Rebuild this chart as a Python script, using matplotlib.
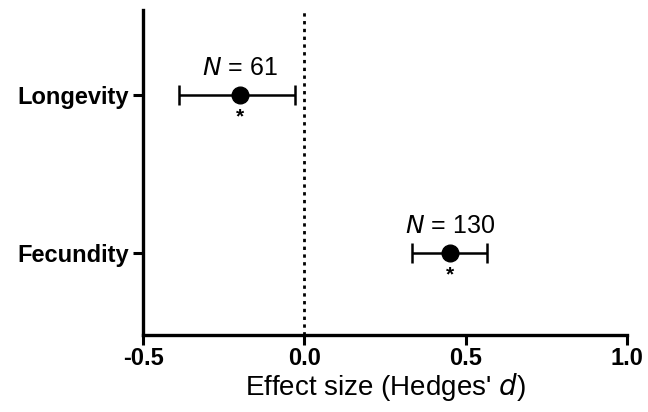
import matplotlib
matplotlib.use('Agg')
from matplotlib import pyplot as plt

outcomes = ['Fecundity', 'Longevity']
effect = [0.45, -0.20]
ci_low = [0.335, -0.39]
ci_high = [0.565, -0.03]
n_labels = ['130', '61']
xticks = [-0.5, 0.0, 0.5, 1.0]
xtick_labels = ['-0.5', '0.0', '0.5', '1.0']

plt.rcParams['font.family'] = ['Liberation Sans', 'DejaVu Sans']

fig = plt.figure(figsize=(6.48, 4.12), dpi=100)
ax = fig.add_axes([0.2207, 0.187, 0.747, 0.789])

ypos = list(range(len(outcomes)))
err_lo = [e - l for e, l in zip(effect, ci_low)]
err_hi = [h - e for e, h in zip(effect, ci_high)]

ax.axvline(0, color='black', linestyle=(0, (1.2, 1.6)), linewidth=2, zorder=1)
ax.errorbar(effect, ypos, xerr=[err_lo, err_hi], fmt='o', color='black',
            markersize=12, elinewidth=1.8, capsize=7, capthick=1.8, zorder=3)

for x, y, n in zip(effect, ypos, n_labels):
    ax.text(x, y + 0.17, '$\\it{N}$ = ' + n, ha='center', va='center', fontsize=18)
    ax.text(x, y - 0.14, '*', ha='center', va='center', fontsize=15, fontweight='bold')

ax.set_xlim(-0.5, 1.0)
ax.set_ylim(-0.52, 1.54)
ax.set_xticks(xticks)
ax.set_xticklabels(xtick_labels, fontsize=17, fontweight='bold')
ax.set_yticks(ypos)
ax.set_yticklabels(outcomes, fontsize=17, fontweight='bold')
ax.set_xlabel("Effect size (Hedges' $\\it{d}$)", fontsize=20, labelpad=1)

for side in ['top', 'right']:
    ax.spines[side].set_visible(False)
for side in ['left', 'bottom']:
    ax.spines[side].set_linewidth(2.4)
ax.tick_params(axis='both', width=2.2, length=7, direction='out', pad=3)
ax.tick_params(axis='x', pad=1.5)

plt.savefig('out.png', dpi=100)
